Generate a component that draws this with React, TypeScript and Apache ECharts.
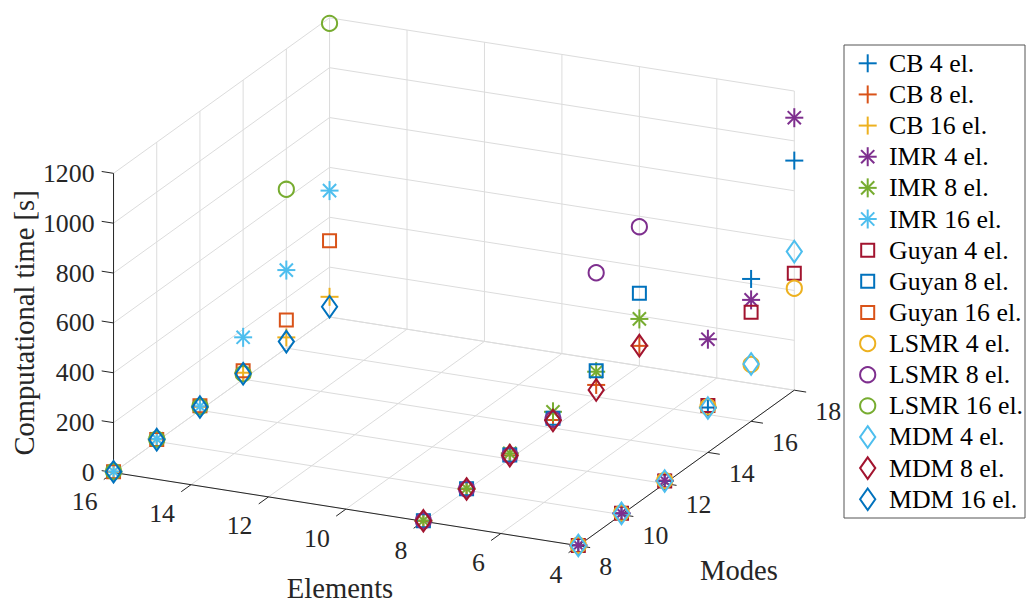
import React, { useEffect, useRef } from "react";
import * as echarts from "echarts";

// ---------- data ----------
const modes = [8, 10, 12, 14, 16, 18];
const elementTicks = [4, 6, 8, 10, 12, 14, 16];
const modeTicks = [8, 10, 12, 14, 16, 18];
const timeTicks = [0, 200, 400, 600, 800, 1000, 1200];

const cb4 = [1, 4, 10, 180, 571, 921];
const cb8 = [2, 5, 15, 32, 48, 80];
const cb16 = [3, 8, 14, 26, 43, 81];
const imr4 = [2, 6, 12, 454, 487, 1093];
const imr8 = [3, 7, 23, 65, 101, 188];
const imr16 = [4, 10, 16, 168, 313, 507];
const guyan4 = [1, 5, 10, 188, 437, 469];
const guyan8 = [2, 6, 16, 39, 105, 291];
const guyan16 = [3, 8, 18, 34, 113, 306];
const lsmr4 = [2, 6, 12, 183, 228, 409];
const lsmr8 = [2, 5, 15, 35, 498, 558];
const lsmr16 = [4, 9, 15, 22, 637, 1178];
const mdm4 = [1, 5, 10, 178, 230, 556];
const mdm8 = [2, 5, 14, 30, 28, 81];
const mdm16 = [3, 7, 13, 22, 26, 41];

const C = {
  blue: "#0072BD",
  orange: "#D95319",
  yellow: "#EDB120",
  purple: "#7E2F8E",
  green: "#77AC30",
  cyan: "#4DBEEE",
  red: "#A2142F",
};

type Marker = "plus" | "star" | "square" | "circle" | "diamond";
const seriesDefs: { name: string; elements: number; marker: Marker; color: string; values: number[] }[] = [
  { name: "CB 4 el.", elements: 4, marker: "plus", color: C.blue, values: cb4 },
  { name: "CB 8 el.", elements: 8, marker: "plus", color: C.orange, values: cb8 },
  { name: "CB 16 el.", elements: 16, marker: "plus", color: C.yellow, values: cb16 },
  { name: "IMR 4 el.", elements: 4, marker: "star", color: C.purple, values: imr4 },
  { name: "IMR 8 el.", elements: 8, marker: "star", color: C.green, values: imr8 },
  { name: "IMR 16 el.", elements: 16, marker: "star", color: C.cyan, values: imr16 },
  { name: "Guyan 4 el.", elements: 4, marker: "square", color: C.red, values: guyan4 },
  { name: "Guyan 8 el.", elements: 8, marker: "square", color: C.blue, values: guyan8 },
  { name: "Guyan 16 el.", elements: 16, marker: "square", color: C.orange, values: guyan16 },
  { name: "LSMR 4 el.", elements: 4, marker: "circle", color: C.yellow, values: lsmr4 },
  { name: "LSMR 8 el.", elements: 8, marker: "circle", color: C.purple, values: lsmr8 },
  { name: "LSMR 16 el.", elements: 16, marker: "circle", color: C.green, values: lsmr16 },
  { name: "MDM 4 el.", elements: 4, marker: "diamond", color: C.cyan, values: mdm4 },
  { name: "MDM 8 el.", elements: 8, marker: "diamond", color: C.red, values: mdm8 },
  { name: "MDM 16 el.", elements: 16, marker: "diamond", color: C.blue, values: mdm16 },
];

// ---------- 3D view (orthographic projection) ----------
const EL_MIN = 4, EL_MAX = 16, M_MIN = 8, M_MAX = 18, T_MIN = 0, T_MAX = 1200;
const ORIGIN = [578.3, 545.7]; // (EL_MIN, M_MIN, T_MIN)
const EL_VEC = [-38.73, -6.1];
const M_VEC = [21.6, -15.55];
const T_SCALE = 0.2493;

function project(el: number, m: number, t: number): [number, number] {
  const de = el - EL_MIN;
  const dm = m - M_MIN;
  return [
    ORIGIN[0] + de * EL_VEC[0] + dm * M_VEC[0],
    ORIGIN[1] + de * EL_VEC[1] + dm * M_VEC[1] - (t - T_MIN) * T_SCALE,
  ];
}

const FONT = "'Liberation Serif', 'Times New Roman', Times, serif";
const TEXT_COLOR = "#262626";
const GRID_COLOR = "#dcdcdc";
const LW = 2;

function markerChildren(kind: Marker, color: string, z = 0): any[] {
  const st = { stroke: color, lineWidth: LW, fill: "none" };
  const line = (x1: number, y1: number, x2: number, y2: number) => ({
    type: "line",
    z,
    shape: { x1, y1, x2, y2 },
    style: { stroke: color, lineWidth: LW },
  });
  switch (kind) {
    case "plus":
      return [line(-9, 0, 9, 0), line(0, -9, 0, 9)];
    case "star": {
      const d = 6.6;
      return [line(-9, 0, 9, 0), line(0, -9.5, 0, 9.5), line(-d, -d, d, d), line(-d, d, d, -d)];
    }
    case "square":
      return [{ type: "rect", z, shape: { x: -6.5, y: -6.5, width: 13, height: 13 }, style: st }];
    case "circle":
      return [{ type: "circle", z, shape: { cx: 0, cy: 0, r: 7.6 }, style: st }];
    case "diamond":
      return [
        {
          type: "polygon",
          z,
          shape: { points: [[0, -10.8], [7.6, 0], [0, 10.8], [-7.6, 0]] },
          style: st,
        },
      ];
  }
  return [];
}

function seg(a: [number, number], b: [number, number], color: string, width = 1, z = 0) {
  return {
    type: "line",
    z,
    silent: true,
    shape: { x1: a[0], y1: a[1], x2: b[0], y2: b[1] },
    style: { stroke: color, lineWidth: width },
  };
}

function txt(x: number, y: number, text: string, size: number, align: string, vAlign: string, extra: any = {}) {
  return {
    type: "text",
    x,
    y,
    z: 5,
    silent: true,
    style: {
      text,
      fill: TEXT_COLOR,
      fontSize: size,
      fontFamily: FONT,
      align,
      verticalAlign: vAlign,
    },
    ...extra,
  };
}

function buildGraphic(): any[] {
  const g: any[] = [];
  // floor grid
  elementTicks.forEach((e) => g.push(seg(project(e, M_MIN, 0), project(e, M_MAX, 0), GRID_COLOR)));
  modeTicks.forEach((m) => g.push(seg(project(EL_MIN, m, 0), project(EL_MAX, m, 0), GRID_COLOR)));
  // left wall (elements = max)
  modeTicks.forEach((m) => g.push(seg(project(EL_MAX, m, T_MIN), project(EL_MAX, m, T_MAX), GRID_COLOR)));
  timeTicks.forEach((t) => g.push(seg(project(EL_MAX, M_MIN, t), project(EL_MAX, M_MAX, t), GRID_COLOR)));
  // back wall (modes = max)
  elementTicks.forEach((e) => g.push(seg(project(e, M_MAX, T_MIN), project(e, M_MAX, T_MAX), GRID_COLOR)));
  timeTicks.forEach((t) => g.push(seg(project(EL_MIN, M_MAX, t), project(EL_MAX, M_MAX, t), GRID_COLOR)));

  // axis lines
  g.push(seg(project(EL_MAX, M_MIN, 0), project(EL_MIN, M_MIN, 0), TEXT_COLOR, 1, 1));
  g.push(seg(project(EL_MIN, M_MIN, 0), project(EL_MIN, M_MAX, 0), TEXT_COLOR, 1, 1));
  g.push(seg(project(EL_MAX, M_MIN, T_MIN), project(EL_MAX, M_MIN, T_MAX), TEXT_COLOR, 1, 1));

  const TL = 12;
  const mLen = Math.hypot(M_VEC[0], M_VEC[1]);
  const eLen = Math.hypot(EL_VEC[0], EL_VEC[1]);
  // elements ticks + labels
  elementTicks.forEach((e) => {
    const p = project(e, M_MIN, 0);
    const q: [number, number] = [p[0] - (M_VEC[0] / mLen) * TL, p[1] - (M_VEC[1] / mLen) * TL];
    g.push(seg(p, q, TEXT_COLOR, 1, 1));
    g.push(txt(p[0] - 16, p[1] + 29, String(e), 25.8, "right", "middle"));
  });
  // modes ticks + labels
  modeTicks.forEach((m) => {
    const p = project(EL_MIN, m, 0);
    const q: [number, number] = [p[0] - (EL_VEC[0] / eLen) * TL, p[1] - (EL_VEC[1] / eLen) * TL];
    g.push(seg(p, q, TEXT_COLOR, 1, 1));
    g.push(txt(p[0] + 21, p[1] + 21, String(m), 25.8, "left", "middle"));
  });
  // time ticks + labels
  timeTicks.forEach((t) => {
    const p = project(EL_MAX, M_MIN, t);
    const q: [number, number] = [p[0] + (EL_VEC[0] / eLen) * TL, p[1] + (EL_VEC[1] / eLen) * TL];
    g.push(seg(p, q, TEXT_COLOR, 1, 1));
    g.push(txt(p[0] - 19, p[1], String(t), 25.8, "right", "middle"));
  });

  // axis titles
  const zMid = project(EL_MAX, M_MIN, (T_MIN + T_MAX) / 2);
  g.push(txt(24, zMid[1], "Computational time [s]", 28.6, "center", "middle", { rotation: Math.PI / 2 }));
  g.push(txt(340, 588, "Elements", 28.6, "center", "middle"));
  g.push(txt(739, 570, "Modes", 28.6, "center", "middle"));

  // legend
  const LX = 844, LY = 45, LWID = 181, LH = 473;
  g.push({
    type: "rect",
    z: 6,
    silent: true,
    shape: { x: LX, y: LY, width: LWID, height: LH },
    style: { fill: "#ffffff", stroke: "#555555", lineWidth: 1 },
  });
  seriesDefs.forEach((s, i) => {
    const y = 63.3 + i * 31.14;
    g.push({ type: "group", x: 867.7, y, z: 8, silent: true, children: markerChildren(s.marker, s.color, 8) });
    g.push({
      type: "text",
      x: 889,
      y,
      z: 8,
      silent: true,
      style: { text: s.name, fill: "#000000", fontSize: 25.8, fontFamily: FONT, align: "left", verticalAlign: "middle" },
    });
  });
  return g;
}

export default function App() {
  const ref = useRef<HTMLDivElement>(null);
  useEffect(() => {
    if (!ref.current) return;
    const chart = echarts.init(ref.current, null, { renderer: "svg" });
    chart.setOption({
      animation: false,
      backgroundColor: "#ffffff",
      graphic: { elements: buildGraphic() },
      series: seriesDefs.map((s) => ({
        type: "custom",
        name: s.name,
        coordinateSystem: "none",
        z: 3,
        silent: true,
        data: modes.map((m, i) => [s.elements, m, s.values[i]]),
        renderItem: (_params: any, api: any) => {
          const [x, y] = project(api.value(0), api.value(1), api.value(2));
          return { type: "group", x, y, children: markerChildren(s.marker, s.color) };
        },
      })),
    });
    return () => chart.dispose();
  }, []);
  return (
    <div
      ref={ref}
      style={{ position: "fixed", left: 0, top: 0, width: 1028, height: 605, background: "#fff" }}
    />
  );
}
